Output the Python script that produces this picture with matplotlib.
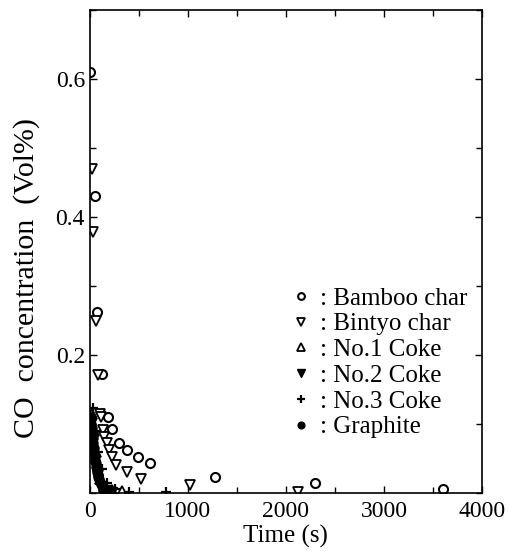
import matplotlib
matplotlib.use("Agg")
import matplotlib.pyplot as plt
from matplotlib.ticker import MultipleLocator

plt.rcParams['font.family'] = ['Liberation Serif', 'DejaVu Serif']

# CO concentration (Vol%) against time (s)
bamboo_t = [5, 50, 70, 120, 185, 225, 300, 380, 490, 610, 1280, 2300, 3600]
bamboo_c = [0.61, 0.43, 0.262, 0.172, 0.111, 0.093, 0.073, 0.063, 0.052, 0.043, 0.024, 0.015, 0.006]

bintyo_t = [20, 30, 60, 80, 100, 110, 135, 150, 175, 195, 225, 265, 375, 520, 1020, 2120]
bintyo_c = [0.47, 0.378, 0.25, 0.171, 0.114, 0.11, 0.091, 0.081, 0.072, 0.062, 0.052, 0.041, 0.031, 0.021, 0.012, 0.002]

coke1_t = [20, 40, 60, 80, 100, 150, 225, 330]
coke1_c = [0.115, 0.09, 0.06, 0.04, 0.02, 0.009, 0.005, 0.003]

coke2_t = [10, 20, 30, 50, 80, 120, 180, 230]
coke2_c = [0.1, 0.08, 0.06, 0.04, 0.02, 0.01, 0.004, 0.002]

coke3_t = [30, 50, 80, 120, 180, 260, 400, 780]
coke3_c = [0.123, 0.09, 0.06, 0.035, 0.015, 0.006, 0.002, 0.001]

graphite_t = [10, 15, 20, 25, 30, 35, 40, 45, 50, 55, 60, 65, 70, 75, 80, 85, 90, 100,
              110, 120, 130, 140, 160, 180]
graphite_c = [0.11, 0.1, 0.094, 0.086, 0.08, 0.073, 0.066, 0.06, 0.054, 0.048, 0.043, 0.038,
              0.034, 0.03, 0.026, 0.023, 0.02, 0.016, 0.013, 0.01, 0.008, 0.006, 0.004, 0.002]

fig = plt.figure(figsize=(5.1, 5.51), dpi=100)
ax = fig.add_axes([0.176, 0.105, 0.769, 0.877])

ms = 6.5
ax.plot(bamboo_t, bamboo_c, 'o', mfc='white', mec='black', mew=1.5, ms=ms, label=': Bamboo char')
ax.plot(bintyo_t, bintyo_c, 'v', mfc='white', mec='black', mew=1.3, ms=ms + 1, label=': Bintyo char')
ax.plot(coke1_t, coke1_c, '^', mfc='white', mec='black', mew=1.3, ms=ms + 1, label=': No.1 Coke')
ax.plot(coke2_t, coke2_c, 'v', color='black', ms=ms + 1, label=': No.2 Coke')
ax.plot(coke3_t, coke3_c, '+', color='black', mew=1.6, ms=ms + 1, label=': No.3 Coke')
ax.plot(graphite_t, graphite_c, 'o', color='black', ms=ms, label=': Graphite')

ax.set_xlim(0, 4000)
ax.set_ylim(0, 0.7)
ax.xaxis.set_major_locator(MultipleLocator(1000))
ax.xaxis.set_minor_locator(MultipleLocator(500))
ax.set_yticks([0.2, 0.4, 0.6])
ax.yaxis.set_minor_locator(MultipleLocator(0.1))

ax.tick_params(which='both', direction='in', top=True, right=True, width=1.0, labelsize=17)
ax.tick_params(which='major', length=5)
ax.tick_params(which='minor', length=4)
ax.tick_params(axis='x', pad=6)
for s in ax.spines.values():
    s.set_linewidth(1.2)

ax.set_xlabel('Time (s)', fontsize=18, labelpad=2)
ax.set_ylabel('CO  concentration  (Vol%)', fontsize=21.5)
ax.yaxis.set_label_coords(-0.128, 0.445)

ax.legend(loc='upper left', bbox_to_anchor=(0.495, 0.447), frameon=False, fontsize=18,
          handlelength=0.6, handletextpad=0.45, labelspacing=0.13, markerscale=0.75,
          borderaxespad=0)

fig.savefig('out.png', dpi=100)
